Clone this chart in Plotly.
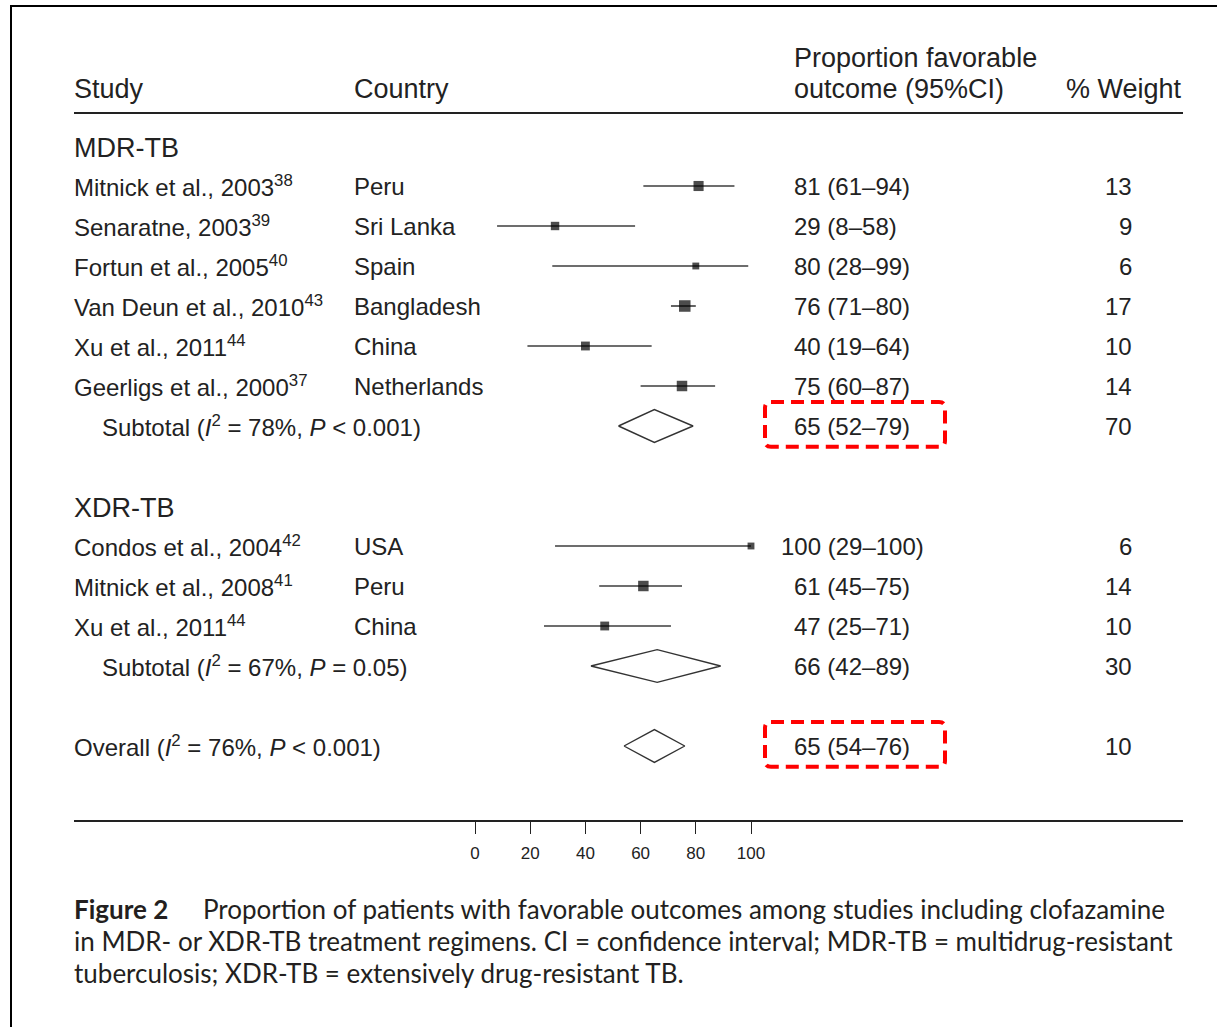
import math
import plotly.graph_objects as go

W, H = 1217, 1027

# ---------------- data ----------------
mdr_study = ["Mitnick et al., 2003", "Senaratne, 2003", "Fortun et al., 2005",
             "Van Deun et al., 2010", "Xu et al., 2011", "Geerligs et al., 2000"]
mdr_ref = ["38", "39", "40", "43", "44", "37"]
mdr_country = ["Peru", "Sri Lanka", "Spain", "Bangladesh", "China", "Netherlands"]
mdr_est = [81, 29, 80, 76, 40, 75]
mdr_lo = [61, 8, 28, 71, 19, 60]
mdr_hi = [94, 58, 99, 80, 64, 87]
mdr_weight = [13, 9, 6, 17, 10, 14]

xdr_study = ["Condos et al., 2004", "Mitnick et al., 2008", "Xu et al., 2011"]
xdr_ref = ["42", "41", "44"]
xdr_country = ["USA", "Peru", "China"]
xdr_est = [100, 61, 47]
xdr_lo = [29, 45, 25]
xdr_hi = [100, 75, 71]
xdr_weight = [6, 14, 10]

pooled_label = ["Subtotal (<i>I</i><sup>2</sup> = 78%, <i>P</i> &lt; 0.001)",
                "Subtotal (<i>I</i><sup>2</sup> = 67%, <i>P</i> = 0.05)",
                "Overall (<i>I</i><sup>2</sup> = 76%, <i>P</i> &lt; 0.001)"]
pooled_est = [65, 66, 65]
pooled_lo = [52, 42, 54]
pooled_hi = [79, 89, 76]
pooled_weight = [70, 30, 10]
pooled_highlight = [True, False, True]

group_names = ["MDR-TB", "XDR-TB"]
tick_vals = [0, 20, 40, 60, 80, 100]

# ---------------- layout rows ----------------
mdr_rows = [1, 2, 3, 4, 5, 6]
xdr_rows = [10, 11, 12]
pooled_rows = [7, 13, 15]
pooled_indent = [True, True, False]
group_rows = [0, 9]

study = mdr_study + xdr_study
ref = mdr_ref + xdr_ref
country = mdr_country + xdr_country
est = mdr_est + xdr_est
lo = mdr_lo + xdr_lo
hi = mdr_hi + xdr_hi
weight = mdr_weight + xdr_weight
rows = mdr_rows + xdr_rows

FONT = "Liberation Sans, Arial, sans-serif"
TXT = "#222222"
FS = 24
FSH = 27
DIGIT = 0.556 * FS


def px(x):
    return x / W


def py(y):
    return 1 - y / H


fig = go.Figure()

# CI lines
lx, ly = [], []
for l, h, r in zip(lo, hi, rows):
    lx += [l, h, None]
    ly += [r, r, None]
fig.add_trace(go.Scatter(x=lx, y=ly, mode="lines",
                         line=dict(color="#3c3c3c", width=1.6),
                         hoverinfo="skip", showlegend=False))

# squares
fig.add_trace(go.Scatter(x=est, y=rows, mode="markers",
                         marker=dict(symbol="square", color="black",
                                     size=[2.8 * math.sqrt(w) for w in weight],
                                     line=dict(width=0)),
                         showlegend=False))

# diamonds
dh = 0.41
for e, l, h, r in zip(pooled_est, pooled_lo, pooled_hi, pooled_rows):
    fig.add_trace(go.Scatter(x=[l, e, h, e, l], y=[r, r - dh, r, r + dh, r],
                             mode="lines", fill="toself", fillcolor="white",
                             line=dict(color="#333333", width=1.4),
                             showlegend=False, hoverinfo="skip"))

annotations = []


def add_text(x, y, text, xanchor="left", yref="y", size=FS, color=TXT, family=FONT):
    annotations.append(dict(x=x, y=y, xref="paper", yref=yref, text=text,
                            xanchor=xanchor, yanchor="middle", showarrow=False,
                            borderpad=0, borderwidth=0,
                            font=dict(family=family, size=size, color=color)))


def ci_text(e, l, h, r):
    # point estimates line up on their last digit (two-digit reference at 795px)
    shift = (len(str(e)) - 2) * DIGIT
    add_text(px(794 - shift), r, f"{e} ({l}\u2013{h})")


# column headers
add_text(px(74), py(89), "Study", yref="paper", size=FSH)
add_text(px(354), py(89), "Country", yref="paper", size=FSH)
add_text(px(794), py(58), "Proportion favorable", yref="paper", size=FSH)
add_text(px(794), py(89), "outcome (95%CI)", yref="paper", size=FSH)
add_text(px(1182), py(89), "% Weight", xanchor="right", yref="paper", size=FSH)

for g, r in zip(group_names, group_rows):
    add_text(px(74), r + 0.05, g, size=FSH)

for s, rf, c, e, l, h, w, r in zip(study, ref, country, est, lo, hi, weight, rows):
    add_text(px(74), r, f"{s}<sup>{rf}</sup>")
    add_text(px(354), r, c)
    ci_text(e, l, h, r)
    add_text(px(1132), r, f"{w}", xanchor="right")

for lab, e, l, h, w, r, ind in zip(pooled_label, pooled_est, pooled_lo, pooled_hi,
                                   pooled_weight, pooled_rows, pooled_indent):
    add_text(px(102 if ind else 74), r, lab)
    ci_text(e, l, h, r)
    add_text(px(1132), r, f"{w}", xanchor="right")

# caption
CAP = "Lato, Noto Sans, sans-serif"
CAPC = "#231f20"
CFS = 26
add_text(px(74), py(909), "<b>Figure 2</b>", yref="paper", family=CAP, color=CAPC, size=CFS)
add_text(px(203), py(909),
         "Proportion of patients with favorable outcomes among studies including clofazamine",
         yref="paper", family=CAP, color=CAPC, size=CFS)
add_text(px(74), py(941),
         "in MDR- or XDR-TB treatment regimens. CI = confidence interval; MDR-TB = multidrug-resistant",
         yref="paper", family=CAP, color=CAPC, size=CFS)
add_text(px(74), py(973),
         "tuberculosis; XDR-TB = extensively drug-resistant TB.",
         yref="paper", family=CAP, color=CAPC, size=CFS)

shapes = []
# frame
shapes.append(dict(type="line", xref="paper", yref="paper", x0=px(11), x1=px(11),
                   y0=py(6), y1=0, line=dict(color="black", width=2)))
shapes.append(dict(type="line", xref="paper", yref="paper", x0=px(10), x1=1,
                   y0=py(6), y1=py(6), line=dict(color="black", width=2)))
# header rule
shapes.append(dict(type="line", xref="paper", yref="paper", x0=px(74), x1=px(1183),
                   y0=py(113), y1=py(113), line=dict(color="#222", width=1.8)))

# red dashed highlight boxes around pooled estimates
bx0, bx1 = px(765), px(945)
bh = 0.56
rx, ry = px(6), 6 / 40
for r, hl in zip(pooled_rows, pooled_highlight):
    if not hl:
        continue
    y0, y1 = r - bh - 0.04, r + bh - 0.04
    path = (f"M {bx0 + rx},{y0} L {bx1 - rx},{y0} Q {bx1},{y0} {bx1},{y0 + ry} "
            f"L {bx1},{y1 - ry} Q {bx1},{y1} {bx1 - rx},{y1} "
            f"L {bx0 + rx},{y1} Q {bx0},{y1} {bx0},{y1 - ry} "
            f"L {bx0},{y0 + ry} Q {bx0},{y0} {bx0 + rx},{y0} Z")
    shapes.append(dict(type="path", xref="paper", yref="y", path=path,
                       line=dict(color="red", width=4, dash="13px,7px")))

# axes: 0 -> x=475px, 100 -> x=751px
ppu = (751 - 475) / 100
xr0 = (74 - 475) / ppu
xr1 = (1183 - 475) / ppu
row0_px, row_step = 146, 40
yr_top = (113 - row0_px) / row_step
yr_bot = (820 - row0_px) / row_step

fig.update_layout(
    width=W, height=H,
    margin=dict(l=0, r=0, t=0, b=0),
    paper_bgcolor="white", plot_bgcolor="white",
    showlegend=False,
    xaxis=dict(domain=[px(74), px(1183)], range=[xr0, xr1],
               showline=True, linecolor="#222", linewidth=1.8,
               ticks="outside", ticklen=12, tickwidth=1.4, tickcolor="#222",
               tickvals=tick_vals, ticktext=[str(t) for t in tick_vals],
               tickfont=dict(family=FONT, size=17, color=TXT),
               ticklabelstandoff=5,
               showgrid=False, zeroline=False, fixedrange=True),
    yaxis=dict(domain=[py(820), py(113)], range=[yr_bot, yr_top],
               visible=False, showgrid=False, zeroline=False, fixedrange=True),
    annotations=annotations,
    shapes=shapes,
)

fig.write_html("out.html")
